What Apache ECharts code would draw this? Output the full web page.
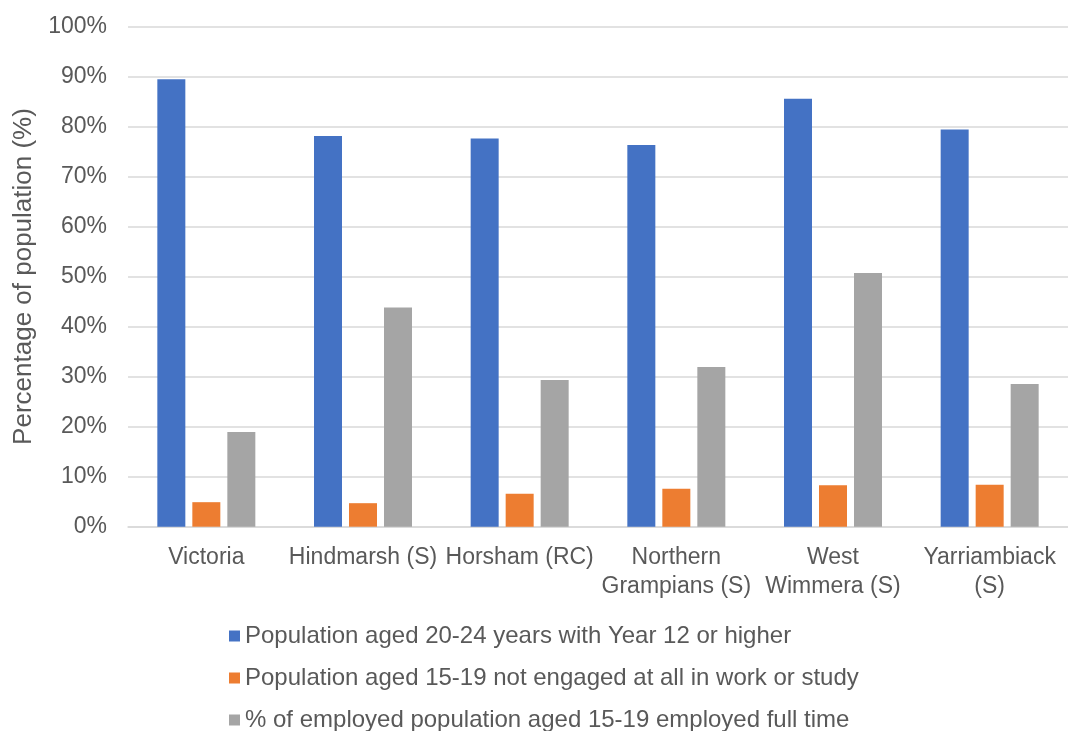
<!DOCTYPE html>
<html>
<head>
<meta charset="utf-8">
<script src="https://cdn.jsdelivr.net/npm/echarts@6/dist/echarts.min.js"></script>
<style>
html,body{margin:0;padding:0;background:#fff;}
#chart{width:1068px;height:731px;}
</style>
</head>
<body>
<div id="chart"></div>
<script>
const categories = ["Victoria", "Hindmarsh (S)", "Horsham (RC)", "Northern\nGrampians (S)", "West\nWimmera (S)", "Yarriambiack\n(S)"];
const seriesNames = [
  "Population aged 20-24 years with Year 12 or higher",
  "Population aged 15-19 not engaged at all in work or study",
  "% of employed population aged 15-19 employed full time"
];
const year12 = [89.4, 78.1, 77.6, 76.3, 85.5, 79.4];
const notEngaged = [4.9, 4.7, 6.6, 7.6, 8.3, 8.4];
const fullTime = [18.9, 43.8, 29.3, 31.9, 50.7, 28.5];
const yTicks = [0, 10, 20, 30, 40, 50, 60, 70, 80, 90, 100];

const colors = ["#4472C4", "#ED7D31", "#A5A5A5"];
const font = "Liberation Sans, Arial, sans-serif";
const txt = "#595959";

const chart = echarts.init(document.getElementById('chart'), null, {renderer: 'canvas'});
chart.setOption({
  animation: false,
  color: colors,
  textStyle: {fontFamily: font},
  grid: {left: 128, top: 26.3, width: 948, bottom: 204.3, containLabel: false},
  legend: {
    orient: 'vertical',
    left: 224,
    top: 619,
    height: 112,
    itemWidth: 11,
    itemHeight: 11,
    itemGap: 18,
    icon: 'rect',
    textStyle: {fontSize: 24, lineHeight: 22, color: txt, fontFamily: font},
    data: seriesNames
  },
  xAxis: {
    type: 'category',
    data: categories,
    axisLine: {show: true, lineStyle: {color: '#D9D9D9', width: 1.5}},
    axisTick: {show: false},
    axisLabel: {color: txt, fontSize: 23, lineHeight: 29, margin: 16, interval: 0, fontFamily: font}
  },
  yAxis: {
    type: 'value',
    min: yTicks[0],
    max: yTicks[yTicks.length - 1],
    interval: 10,
    name: 'Percentage of population (%)',
    nameLocation: 'middle',
    nameGap: 90,
    nameTextStyle: {fontSize: 26, color: txt, fontFamily: font},
    axisLine: {show: false},
    axisTick: {show: false},
    axisLabel: {color: txt, fontSize: 23, margin: 21, formatter: v => v + '%', fontFamily: font},
    splitLine: {lineStyle: {color: '#D9D9D9', width: 1.5}}
  },
  series: [
    {name: seriesNames[0], type: 'bar', data: year12, barWidth: 28, barGap: '25%'},
    {name: seriesNames[1], type: 'bar', data: notEngaged, barWidth: 28, barGap: '25%'},
    {name: seriesNames[2], type: 'bar', data: fullTime, barWidth: 28, barGap: '25%'}
  ]
});
</script>
</body>
</html>
